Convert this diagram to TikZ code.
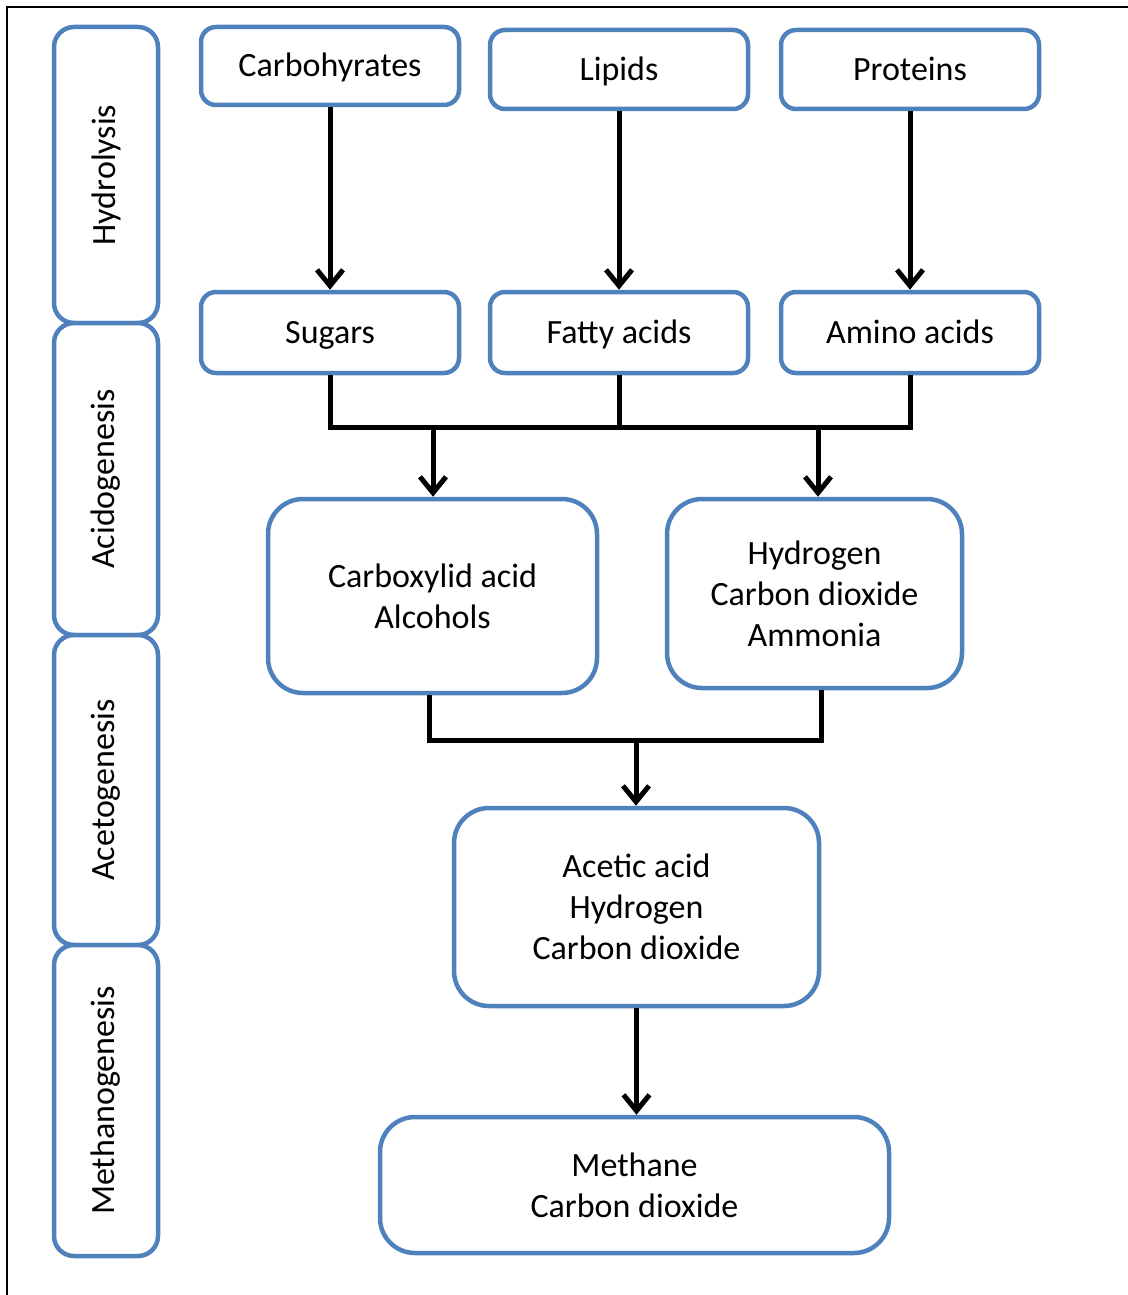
\documentclass[tikz,border=0pt]{standalone}
\usepackage{fontspec}
\setmainfont{Carlito}
\usetikzlibrary{arrows.meta}
\definecolor{boxblue}{HTML}{4F81BD}
\tikzset{
  box/.style={draw=boxblue, line width=4.5pt, fill=white, rectangle, inner sep=0pt, align=center,
    font=\fontsize{34}{41}\selectfont},
  small/.style={box, rounded corners=15pt, minimum width=258pt, minimum height=79pt,
    text height=22pt, text depth=0pt},
  big/.style={box, rounded corners=35pt},
  phase/.style={box, rounded corners=20pt, minimum width=104pt},
  conn/.style={line width=5pt, draw=black},
  arr/.style={conn, -{Straight Barb[length=16pt,width=26pt]}},
}
\begin{document}
\begin{tikzpicture}[x=1pt,y=-1pt]
\useasboundingbox (0,0) rectangle (1127,1295);
\draw[line width=2pt] (7,1300) -- (7,7) -- (1135,7);
% phase boxes
\node[phase, minimum height=296pt] (hyd) at (106,175) {\rotatebox{90}{Hydrolysis}};
\node[phase, minimum height=312pt] (aci) at (106,479) {\rotatebox{90}{Acidogenesis}};
\node[phase, minimum height=310pt] (ace) at (106,790) {\rotatebox{90}{Acetogenesis}};
\node[phase, minimum height=311pt] (met) at (106,1100.5) {\rotatebox{90}{Methanogenesis}};
% top row
\node[small, minimum height=78pt] (carb) at (330,66) {Carbohyrates};
\node[small] (lip) at (619,69.5) {Lipids};
\node[small] (pro) at (910,69.5) {Proteins};
% second row
\node[small, minimum height=81pt] (sug) at (330,332.5) {Sugars};
\node[small, minimum height=81pt] (fat) at (619,332.5) {Fatty acids};
\node[small, minimum height=81pt] (ami) at (910,332.5) {Amino acids};
% big boxes
\node[big, minimum width=329pt, minimum height=194pt] (cbx) at (432.5,596) {Carboxylid acid\\Alcohols};
\node[big, minimum width=295pt, minimum height=189pt] (hco) at (814.5,593.5) {Hydrogen\\Carbon dioxide\\Ammonia};
\node[big, minimum width=365pt, minimum height=198pt] (aca) at (636.5,907) {Acetic acid\\Hydrogen\\Carbon dioxide};
\node[big, minimum width=509pt, minimum height=136pt] (mth) at (634.5,1185) {Methane\\Carbon dioxide};
% coordinates
\coordinate (busR) at (910,427);
\coordinate (busA) at (433,427);
\coordinate (busB) at (818,427);
\coordinate (low) at (821,740);
\coordinate (lowM) at (636,740);
% connectors
\draw[arr] (carb.south) -- (sug.north);
\draw[arr] (lip.south) -- (fat.north);
\draw[arr] (pro.south) -- (ami.north);
\draw[conn] (sug.south) |- (busR) -- (ami.south);
\draw[conn] (fat.south) -- (fat.south |- busR);
\draw[arr] (busA) -- (busA |- cbx.north);
\draw[arr] (busB) -- (busB |- hco.north);
\draw[conn] ([xshift=-3.5pt]cbx.south) |- (low) -- (low |- hco.south);
\draw[arr] (lowM) -- (lowM |- aca.north);
\draw[arr] (aca.south) -- (aca.south |- mth.north);
\end{tikzpicture}
\end{document}
